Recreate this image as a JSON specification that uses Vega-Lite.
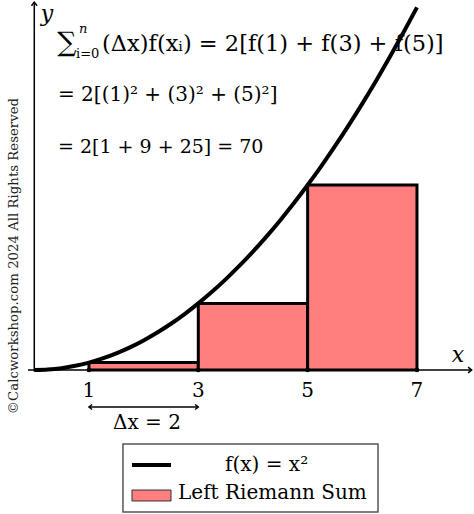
{
  "$schema": "https://vega.github.io/schema/vega-lite/v6.json",
  "width": 474,
  "height": 514,
  "autosize": "none",
  "padding": 0,
  "background": "white",
  "config": {"view": {"stroke": null}, "text": {"font": "DejaVu Serif", "color": "black"}},
  "data": {"values": [{"note": "annotation"}]},
  "datasets": {
    "rects": [
      {"x": 1, "x2": 3, "height": 1},
      {"x": 3, "x2": 5, "height": 9},
      {"x": 5, "x2": 7, "height": 25}
    ],
    "curve": [
      {"x": 0, "y": 0}, {"x": 0.25, "y": 0.0625}, {"x": 0.5, "y": 0.25}, {"x": 0.75, "y": 0.5625},
      {"x": 1, "y": 1}, {"x": 1.25, "y": 1.5625}, {"x": 1.5, "y": 2.25}, {"x": 1.75, "y": 3.0625},
      {"x": 2, "y": 4}, {"x": 2.25, "y": 5.0625}, {"x": 2.5, "y": 6.25}, {"x": 2.75, "y": 7.5625},
      {"x": 3, "y": 9}, {"x": 3.25, "y": 10.5625}, {"x": 3.5, "y": 12.25}, {"x": 3.75, "y": 14.0625},
      {"x": 4, "y": 16}, {"x": 4.25, "y": 18.0625}, {"x": 4.5, "y": 20.25}, {"x": 4.75, "y": 22.5625},
      {"x": 5, "y": 25}, {"x": 5.25, "y": 27.5625}, {"x": 5.5, "y": 30.25}, {"x": 5.75, "y": 33.0625},
      {"x": 6, "y": 36}, {"x": 6.25, "y": 39.0625}, {"x": 6.5, "y": 42.25}, {"x": 6.75, "y": 45.5625},
      {"x": 7, "y": 49}
    ],
    "ticks": [{"x": 1}, {"x": 3}, {"x": 5}, {"x": 7}]
  },
  "encoding": {
    "x": {"type": "quantitative", "scale": {"domain": [-0.627, 8.043], "nice": false, "zero": false}, "axis": null},
    "y": {"type": "quantitative", "scale": {"domain": [-19.46, 50], "nice": false, "zero": false}, "axis": null}
  },
  "layer": [
    {
      "data": {"name": "rects"},
      "mark": {"type": "rect", "fill": "#ff7f7f", "stroke": "black", "strokeWidth": 3},
      "encoding": {"x": {"field": "x"}, "x2": {"field": "x2"}, "y": {"field": "height"}, "y2": {"datum": 0}}
    },
    {
      "data": {"name": "curve"},
      "mark": {"type": "line", "color": "black", "strokeWidth": 4, "interpolate": "monotone"},
      "encoding": {"x": {"field": "x"}, "y": {"field": "y"}}
    },
    {
      "mark": {"type": "rule", "color": "black", "strokeWidth": 1.5},
      "encoding": {"x": {"datum": -0.115}, "x2": {"datum": 8.0}, "y": {"datum": 0}}
    },
    {
      "mark": {"type": "rule", "color": "black", "strokeWidth": 1.5},
      "encoding": {"x": {"datum": 0}, "y": {"datum": -0.2}, "y2": {"datum": 49.7}}
    },
    {
      "mark": {"type": "point", "shape": "M-1,-0.8L0,0L-1,0.8", "filled": false, "stroke": "black", "strokeWidth": 1.5, "size": 50, "opacity": 1},
      "encoding": {"x": {"datum": 8.0}, "y": {"datum": 0}}
    },
    {
      "mark": {"type": "point", "shape": "M-0.8,1L0,0L0.8,1", "filled": false, "stroke": "black", "strokeWidth": 1.5, "size": 50, "opacity": 1},
      "encoding": {"x": {"datum": 0}, "y": {"datum": 49.7}}
    },
    {
      "data": {"name": "ticks"},
      "mark": {"type": "circle", "color": "black", "size": 22, "opacity": 1},
      "encoding": {"x": {"field": "x"}, "y": {"datum": 0}}
    },
    {
      "data": {"name": "ticks"},
      "mark": {"type": "text", "fontSize": 20, "baseline": "middle", "align": "center"},
      "encoding": {"x": {"field": "x"}, "y": {"datum": -2.9}, "text": {"field": "x", "type": "quantitative"}}
    },
    {
      "mark": {"type": "rule", "color": "black", "strokeWidth": 1.5},
      "encoding": {"x": {"datum": 1}, "x2": {"datum": 3}, "y": {"datum": -5.0}}
    },
    {
      "mark": {"type": "point", "shape": "M1,-0.8L0,0L1,0.8", "filled": false, "stroke": "black", "strokeWidth": 1.5, "size": 40, "opacity": 1},
      "encoding": {"x": {"datum": 1}, "y": {"datum": -5.0}}
    },
    {
      "mark": {"type": "point", "shape": "M-1,-0.8L0,0L-1,0.8", "filled": false, "stroke": "black", "strokeWidth": 1.5, "size": 40, "opacity": 1},
      "encoding": {"x": {"datum": 3}, "y": {"datum": -5.0}}
    },
    {
      "mark": {"type": "text", "fontSize": 20, "baseline": "middle", "align": "center"},
      "encoding": {"x": {"datum": 2.06}, "y": {"datum": -7.2}, "text": {"value": "Δx = 2"}}
    },
    {
      "mark": {"type": "text", "fontSize": 22, "fontStyle": "italic", "baseline": "middle", "align": "center"},
      "encoding": {"x": {"datum": 7.75}, "y": {"datum": 2.0}, "text": {"value": "x"}}
    },
    {
      "mark": {"type": "text", "fontSize": 22, "fontStyle": "italic", "baseline": "middle", "align": "center"},
      "encoding": {"x": {"datum": 0.23}, "y": {"datum": 48.1}, "text": {"value": "y"}}
    },
    {
      "mark": {"type": "text", "fontSize": 27, "baseline": "middle", "align": "left"},
      "encoding": {"x": {"datum": 0.42}, "y": {"datum": 44.2}, "text": {"value": "∑"}}
    },
    {
      "mark": {"type": "text", "fontSize": 13, "fontStyle": "italic", "baseline": "middle", "align": "left"},
      "encoding": {"x": {"datum": 0.818}, "y": {"datum": 46.1}, "text": {"value": "n"}}
    },
    {
      "mark": {"type": "text", "fontSize": 13, "baseline": "middle", "align": "left"},
      "encoding": {"x": {"datum": 0.763}, "y": {"datum": 42.7}, "text": {"value": "i=0"}}
    },
    {
      "mark": {"type": "text", "fontSize": 22.5, "baseline": "middle", "align": "left"},
      "encoding": {"x": {"datum": 1.24}, "y": {"datum": 44.1}, "text": {"value": "(Δx)f(xᵢ) = 2[f(1) + f(3) + f(5)]"}}
    },
    {
      "mark": {"type": "text", "fontSize": 20, "baseline": "middle", "align": "left"},
      "encoding": {"x": {"datum": 0.434}, "y": {"datum": 37.2}, "text": {"value": "= 2[(1)² + (3)² + (5)²]"}}
    },
    {
      "mark": {"type": "text", "fontSize": 19, "baseline": "middle", "align": "left"},
      "encoding": {"x": {"datum": 0.434}, "y": {"datum": 30.1}, "text": {"value": "= 2[1 + 9 + 25] = 70"}}
    },
    {
      "mark": {"type": "text", "fontSize": 13.3, "angle": 270, "baseline": "middle", "align": "center", "color": "#222"},
      "encoding": {"x": {"datum": -0.371}, "y": {"datum": 15.4}, "text": {"value": "©Calcworkshop.com 2024 All Rights Reserved"}}
    },
    {
      "mark": {"type": "rect", "fill": "white", "stroke": "#555", "strokeWidth": 1.5},
      "encoding": {"x": {"datum": 1.622}, "x2": {"datum": 6.287}, "y": {"datum": -10.0}, "y2": {"datum": -19.2}}
    },
    {
      "mark": {"type": "rule", "color": "black", "strokeWidth": 4},
      "encoding": {"x": {"datum": 1.787}, "x2": {"datum": 2.501}, "y": {"datum": -12.84}}
    },
    {
      "mark": {"type": "rect", "fill": "#ff7f7f", "stroke": "#333", "strokeWidth": 1},
      "encoding": {"x": {"datum": 1.787}, "x2": {"datum": 2.501}, "y": {"datum": -16.22}, "y2": {"datum": -17.7}}
    },
    {
      "mark": {"type": "text", "fontSize": 20, "baseline": "middle", "align": "center"},
      "encoding": {"x": {"datum": 4.25}, "y": {"datum": -12.84}, "text": {"value": "f(x) = x²"}}
    },
    {
      "mark": {"type": "text", "fontSize": 20, "baseline": "middle", "align": "left"},
      "encoding": {"x": {"datum": 2.63}, "y": {"datum": -16.62}, "text": {"value": "Left Riemann Sum"}}
    }
  ]
}
